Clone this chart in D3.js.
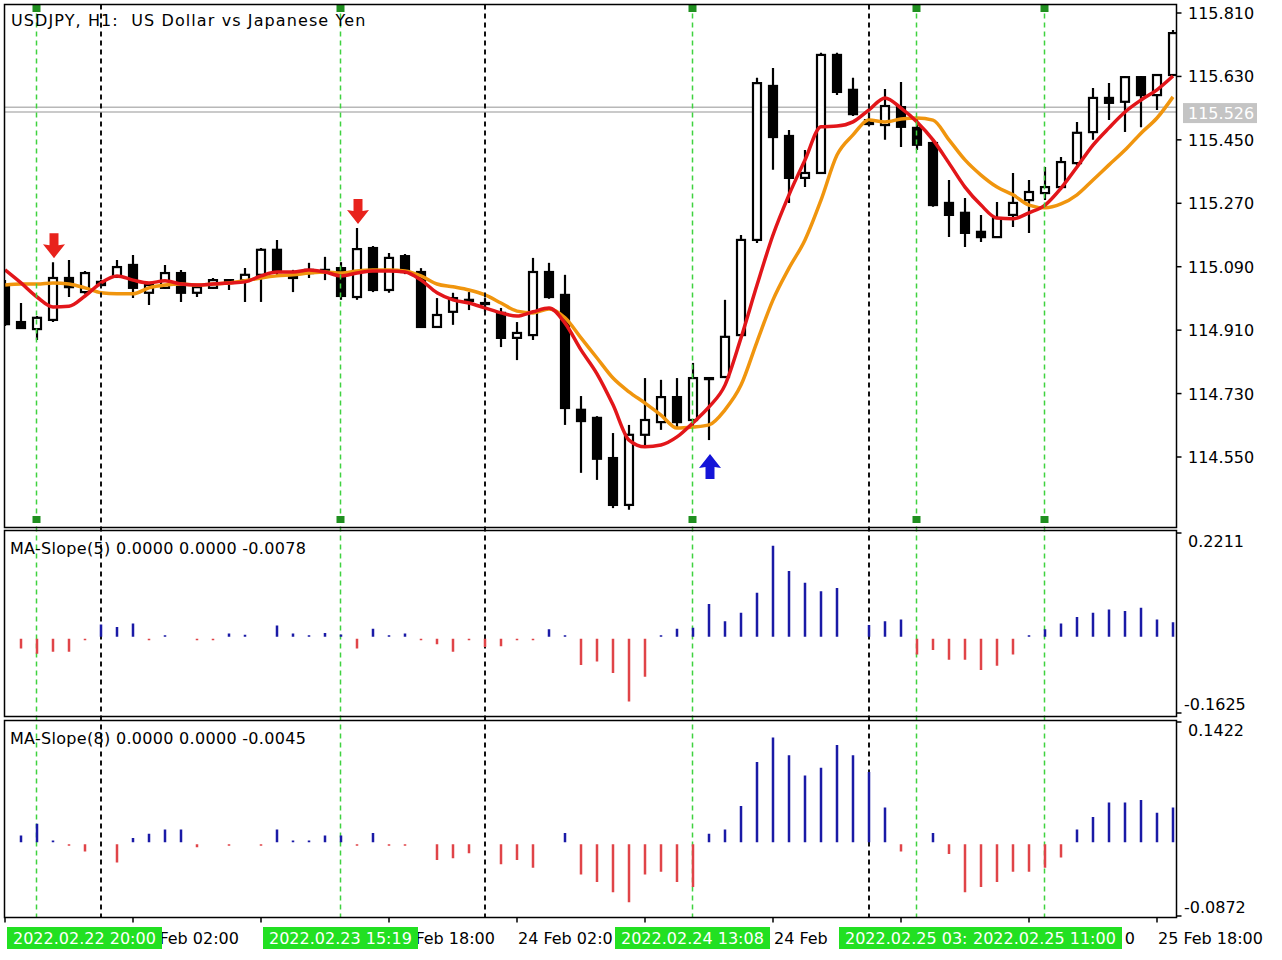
<!DOCTYPE html>
<html><head><meta charset="utf-8">
<script src="https://cdn.jsdelivr.net/npm/d3@7"></script>
<style>body{margin:0;background:#fff}svg{display:block}text{font-family:"DejaVu Sans",sans-serif;white-space:pre}</style>
</head><body><svg id="c" width="1282" height="960"></svg>
<script>
// ---------- data (USDJPY H1, 22 Feb 18:00 .. 25 Feb 19:00) ----------
const open = [115.038,114.933,114.913,114.939,115.058,115.018,115.047,115.061,115.095,115.016,
115.030,115.072,115.016,115.030,115.050,115.052,115.067,115.138,115.064,115.072,
115.075,115.086,115.004,115.143,115.024,115.120,115.075,114.919,114.962,114.996,
114.987,114.959,114.888,114.896,115.075,115.010,114.684,114.661,114.547,114.414,
114.613,114.649,114.720,114.655,114.774,114.777,114.896,115.166,115.603,115.461,
115.342,115.356,115.691,115.592,115.506,115.492,115.543,115.484,115.441,115.271,
115.243,115.189,115.174,115.237,115.279,115.299,115.316,115.384,115.472,115.569,
115.558,115.628,115.577,115.634];
const high = [115.052,114.987,114.950,115.103,115.109,115.078,115.052,115.109,115.123,115.041,
115.095,115.081,115.035,115.058,115.055,115.086,115.143,115.166,115.081,115.101,
115.118,115.103,115.200,115.149,115.129,115.126,115.086,115.001,115.016,115.018,
115.001,114.973,114.933,115.115,115.101,115.067,114.723,114.666,114.618,114.641,
114.774,114.769,114.774,114.817,114.777,114.996,115.180,115.626,115.654,115.478,
115.421,115.697,115.697,115.626,115.526,115.594,115.614,115.512,115.450,115.336,
115.285,115.237,115.274,115.356,115.336,115.373,115.401,115.501,115.597,115.611,
115.631,115.631,115.637,115.762];
const low = [114.922,114.913,114.882,114.933,115.004,115.013,115.032,115.058,115.001,114.981,
115.027,114.990,115.004,115.027,115.024,114.990,114.990,115.067,115.018,115.058,
115.052,114.996,114.996,115.018,115.016,115.069,114.916,114.916,114.925,114.967,
114.962,114.862,114.825,114.882,114.999,114.641,114.505,114.485,114.405,114.400,
114.584,114.627,114.632,114.632,114.598,114.774,114.893,115.157,115.365,115.271,
115.316,115.353,115.577,115.518,115.489,115.450,115.430,115.421,115.260,115.174,
115.146,115.160,115.172,115.203,115.186,115.279,115.308,115.379,115.450,115.506,
115.472,115.486,115.535,115.631];
const close = [114.927,114.916,114.945,115.058,115.032,115.072,115.038,115.089,115.030,115.038,
115.072,115.016,115.032,115.052,115.052,115.067,115.138,115.075,115.058,115.081,
115.081,115.007,115.140,115.024,115.115,115.075,114.919,114.953,115.001,114.993,
114.984,114.888,114.902,115.075,115.004,114.689,114.652,114.545,114.414,114.613,
114.655,114.720,114.649,114.774,114.771,114.891,115.166,115.611,115.458,115.342,
115.356,115.691,115.586,115.523,115.495,115.546,115.487,115.436,115.265,115.237,
115.186,115.174,115.228,115.271,115.302,115.316,115.387,115.470,115.569,115.555,
115.628,115.577,115.634,115.753];
const maFast = [115.081,115.044,115.004,114.976,114.978,115.007,115.044,115.064,115.052,115.044,
115.050,115.041,115.038,115.041,115.044,115.047,115.064,115.075,115.075,115.081,
115.075,115.064,115.072,115.078,115.078,115.075,115.052,115.016,114.996,114.987,
114.973,114.959,114.950,114.962,114.973,114.930,114.854,114.786,114.698,114.598,
114.579,114.584,114.607,114.647,114.692,114.754,114.888,115.038,115.180,115.294,
115.393,115.487,115.489,115.501,115.535,115.569,115.540,115.501,115.450,115.384,
115.316,115.265,115.228,115.226,115.243,115.265,115.313,115.373,115.435,115.484,
115.529,115.563,115.592,115.631];
const maSlow = [115.038,115.041,115.041,115.044,115.041,115.030,115.016,115.013,115.013,115.030,
115.038,115.041,115.038,115.041,115.044,115.050,115.058,115.064,115.067,115.072,
115.075,115.072,115.078,115.081,115.081,115.078,115.064,115.041,115.033,115.024,
115.010,114.987,114.964,114.959,114.970,114.945,114.888,114.831,114.774,114.735,
114.703,114.669,114.632,114.635,114.641,114.684,114.754,114.877,114.996,115.086,
115.166,115.279,115.407,115.464,115.506,115.501,115.509,115.512,115.506,115.450,
115.393,115.350,115.316,115.294,115.265,115.257,115.268,115.294,115.336,115.379,
115.421,115.469,115.512,115.572];
const slope5 = [0,-0.025,-0.036,-0.032,-0.032,-0.002,0.026,0.021,0.028,-0.004,
0.002,0,-0.003,-0.006,0.007,0.004,0,0.024,0.007,0.003,
0.008,0.005,-0.025,0.017,0.002,0.007,-0.003,-0.016,-0.032,-0.002,
-0.022,-0.020,-0.003,-0.003,0.016,0.002,-0.060,-0.053,-0.077,-0.138,
-0.085,0.002,0.017,0.019,0.070,0.033,0.051,0.094,0.194,0.140,
0.115,0.097,0.104,0,0.025,0.033,0.037,-0.038,-0.028,-0.049,
-0.049,-0.071,-0.062,-0.038,0.002,0.016,0.028,0.042,0.051,0.058,
0.055,0.062,0.037,0.031];
const slope8 = [0,0.008,0.022,0.002,-0.002,-0.011,0,-0.024,0.005,0.010,
0.015,0.015,-0.006,0,-0.004,0,-0.004,0.015,0.002,0.002,
0.008,0.008,-0.004,0.011,-0.003,-0.003,0,-0.021,-0.019,-0.013,
0,-0.026,-0.021,-0.030,0,0.011,-0.038,-0.047,-0.059,-0.071,
-0.038,-0.035,-0.047,-0.053,0.010,0.015,0.043,0.095,0.124,0.103,
0.079,0.088,0.115,0.103,0.083,0.041,-0.011,0,0.011,-0.014,
-0.059,-0.053,-0.047,-0.035,-0.035,-0.030,-0.018,0.015,0.030,0.047,
0.047,0.050,0.035,0.041];
const priceTicks = [115.810,115.630,115.450,115.270,115.090,114.910,114.730,114.550];
const timeTickIdx = [0,8,16,24,32,40,48,56,64,72];
const timeTickLabels = ["22 Feb 18:00","23 Feb 02:00","23 Feb 10:00","23 Feb 18:00","24 Feb 02:00","24 Feb 10:00","24 Feb 18:00","25 Feb 02:00","25 Feb 10:00","25 Feb 18:00"];
const daySeparators = [6,30,54];
const markerIdx = [2,21,43,57,65];
const markerLabels = ["2022.02.22 20:00","2022.02.23 15:19","2022.02.24 13:08","2022.02.25 03:00","2022.02.25 11:00"];
const sellSignals = [3,22];
const buySignals = [44];
const bid = 115.526, ask = 115.540;
const slope5Range = [-0.1625,0.2211];
const slope8Range = [-0.0872,0.1422];
const title = "USDJPY, H1:  US Dollar vs Japanese Yen";
const label5 = "MA-Slope(5) 0.0000 0.0000 -0.0078";
const label8 = "MA-Slope(8) 0.0000 0.0000 -0.0045";

// ---------- layout ----------
const L = 4.5, R = 1176.5;
const P1 = {t:4.5, b:527.5}, P2 = {t:530.5, b:716.5}, P3 = {t:720.5, b:917.5};
const svg = d3.select("#c");
const x = d3.scaleLinear().domain([0, open.length-1]).range([5,1173]);
const yP = d3.scaleLinear().domain([114.55,115.81]).range([457,13]);
const y2 = d3.scaleLinear().domain(slope5Range).range([713,533]);
const y3 = d3.scaleLinear().domain(slope8Range).range([916,722]);

svg.append("rect").attr("width",1282).attr("height",960).attr("fill","#fff");
const defs = svg.append("defs");
[["c1",P1],["c2",P2],["c3",P3]].forEach(([id,p])=>{
  defs.append("clipPath").attr("id",id).append("rect").attr("x",L).attr("y",p.t).attr("width",R-L).attr("height",p.b-p.t);
});

// bid / ask lines
const g1 = svg.append("g").attr("clip-path","url(#c1)");
[ask,bid].forEach(v=>g1.append("line").attr("x1",L).attr("x2",R).attr("y1",yP(v)-1).attr("y2",yP(v)-1).attr("stroke","#b8b8b8").attr("stroke-width",1.5));

// candles
const idx = d3.range(open.length);
const cg = g1.append("g");
cg.selectAll("line.w").data(idx).join("line").attr("class","w")
  .attr("x1",i=>x(i)).attr("x2",i=>x(i)).attr("y1",i=>yP(high[i])).attr("y2",i=>yP(low[i]))
  .attr("stroke","#000").attr("stroke-width",2.2);
cg.selectAll("rect.b").data(idx).join("rect").attr("class","b")
  .attr("x",i=>x(i)-4).attr("width",8)
  .attr("y",i=>yP(Math.max(open[i],close[i])))
  .attr("height",i=>Math.max(1,Math.abs(yP(open[i])-yP(close[i]))))
  .attr("fill",i=>close[i]>=open[i]?"#fff":"#000").attr("stroke","#000").attr("stroke-width",2.2);

// vertical lines (all panels)
const vl = svg.append("g");
daySeparators.forEach(i=>vl.append("line").attr("x1",x(i)).attr("x2",x(i)).attr("y1",P1.t).attr("y2",P3.b)
  .attr("stroke","#111").attr("stroke-width",2).attr("stroke-dasharray","5,4"));
markerIdx.forEach(i=>{
  vl.append("line").attr("x1",x(i)-0.5).attr("x2",x(i)-0.5).attr("y1",P1.t).attr("y2",P3.b)
    .attr("stroke","#3fd23f").attr("stroke-width",1.5).attr("stroke-dasharray","5,4");
  vl.append("rect").attr("x",x(i)-4.5).attr("y",5).attr("width",8).attr("height",7).attr("fill","#1f8f1f");
  vl.append("rect").attr("x",x(i)-4.5).attr("y",516).attr("width",8).attr("height",7).attr("fill","#1f8f1f");
});

// moving averages
const lineGen = arr => d3.line().x((d,i)=>x(i)).y(d=>yP(d)).curve(d3.curveMonotoneX)(arr);
g1.append("path").attr("d",lineGen(maSlow)).attr("fill","none").attr("stroke","#f0950e").attr("stroke-width",3.5);
g1.append("path").attr("d",lineGen(maFast)).attr("fill","none").attr("stroke","#e2161a").attr("stroke-width",3.5);

// signal arrows
const downArrow = (cx,tip)=>`M${cx-4.5},${tip-25}L${cx+4.5},${tip-25}L${cx+4.5},${tip-13}L${cx+11},${tip-14}L${cx},${tip}L${cx-11},${tip-14}L${cx-4.5},${tip-13}Z`;
const upArrow = (cx,tip)=>`M${cx-4.5},${tip+25}L${cx+4.5},${tip+25}L${cx+4.5},${tip+13}L${cx+11},${tip+14}L${cx},${tip}L${cx-11},${tip+14}L${cx-4.5},${tip+13}Z`;
sellSignals.forEach(i=>g1.append("path").attr("d",downArrow(x(i)+1,yP(high[i])-4)).attr("fill","#e8221c"));
buySignals.forEach(i=>g1.append("path").attr("d",upArrow(x(i)+1,yP(low[i])+14)).attr("fill","#1414d8"));

// histograms
function hist(arr, y, clip){
  const g = svg.append("g").attr("clip-path",`url(#${clip})`);
  const z = y(0);
  g.selectAll("line").data(idx.filter(i=>arr[i]!==0)).join("line")
    .attr("x1",i=>x(i)).attr("x2",i=>x(i))
    .attr("y1",i=>arr[i]>0?z:z+2)
    .attr("y2",i=>{const v=y(arr[i]); return arr[i]>0?Math.min(v,z-1.5):Math.max(v,z+3.5);})
    .attr("stroke",i=>arr[i]>0?"#1a1aa6":"#e04448").attr("stroke-width",2.5);
}
hist(slope5,y2,"c2");
hist(slope8,y3,"c3");

// frames
[P1,P2,P3].forEach(p=>svg.append("rect").attr("x",L).attr("y",p.t).attr("width",R-L).attr("height",p.b-p.t)
  .attr("fill","none").attr("stroke","#000").attr("stroke-width",1.5));

// right price axis
const ax = svg.append("g");
priceTicks.forEach(v=>{
  ax.append("line").attr("x1",R).attr("x2",R+5).attr("y1",yP(v)).attr("y2",yP(v)).attr("stroke","#000").attr("stroke-width",1.5);
  ax.append("text").attr("x",1188).attr("y",yP(v)+6).attr("font-size",16).text(v.toFixed(3));
});
// price label
ax.append("rect").attr("x",1183).attr("y",yP(bid)-10).attr("width",74).attr("height",20).attr("fill","#c4c4c4");
ax.append("text").attr("x",1188).attr("y",yP(bid)+6).attr("font-size",16).attr("fill","#fff").text(bid.toFixed(3));

// indicator scale labels
function scaleLabels(range,y){
  ax.append("line").attr("x1",R).attr("x2",R+5).attr("y1",y(range[1])).attr("y2",y(range[1])).attr("stroke","#000").attr("stroke-width",1.5);
  ax.append("line").attr("x1",R).attr("x2",R+5).attr("y1",y(range[0])).attr("y2",y(range[0])).attr("stroke","#000").attr("stroke-width",1.5);
  ax.append("text").attr("x",1188).attr("y",y(range[1])+14).attr("font-size",16).text(range[1].toFixed(4));
  ax.append("text").attr("x",1184).attr("y",y(range[0])-3).attr("font-size",16).text(range[0].toFixed(4));
}
scaleLabels(slope5Range,y2);
scaleLabels(slope8Range,y3);

// marker boxes on the time axis (drawn over the time labels)
const boxes = markerIdx.map(i=>{const x0=Math.max(7,x(i)-78); return {x0, x1:x0+155};});

// keep only the part of a text that is not covered by the given boxes
function trimText(sel, cover){
  const node = sel.node(), s = node.textContent;
  const vis = [];
  for(let k=0;k<s.length;k++){
    const e = node.getExtentOfChar(k), c = e.x + e.width/2;
    vis.push(!cover.some(b=>c>b.x0-2 && c<b.x1));
  }
  let best=[0,0], st=-1;
  for(let k=0;k<=s.length;k++){
    if(k<s.length && vis[k]){ if(st<0) st=k; }
    else if(st>=0){ if(k-st>best[1]-best[0]) best=[st,k]; st=-1; }
  }
  let [a,b] = best;
  while(a<b && s[a]===" ") a++;
  while(b>a && s[b-1]===" ") b--;
  if(b<=a){ sel.remove(); return; }
  const sx = node.getExtentOfChar(a).x;
  sel.text(s.slice(a,b)).attr("x",sx);
}

// time axis
timeTickIdx.forEach((i,k)=>{
  ax.append("line").attr("x1",x(i)).attr("x2",x(i)).attr("y1",P3.b).attr("y2",P3.b+5).attr("stroke","#000").attr("stroke-width",1.5);
  const t = ax.append("text").attr("x",x(i)+1).attr("y",944).attr("font-size",16).text(timeTickLabels[k]);
  trimText(t, boxes);
});
markerIdx.forEach((i,k)=>{
  const b = boxes[k];
  ax.append("rect").attr("x",b.x0).attr("y",927).attr("width",155).attr("height",22).attr("fill","#22e022");
  const t = ax.append("text").attr("x",b.x0+6).attr("y",944).attr("font-size",16).attr("fill","#fff").text(markerLabels[k]);
  trimText(t, boxes.slice(k+1));
});

// titles
svg.append("text").attr("x",11).attr("y",26).attr("font-size",16).attr("letter-spacing",1.1).text(title);
svg.append("text").attr("x",10).attr("y",554).attr("font-size",16).attr("letter-spacing",0.3).text(label5);
svg.append("text").attr("x",10).attr("y",744).attr("font-size",16).attr("letter-spacing",0.3).text(label8);
</script></body></html>
